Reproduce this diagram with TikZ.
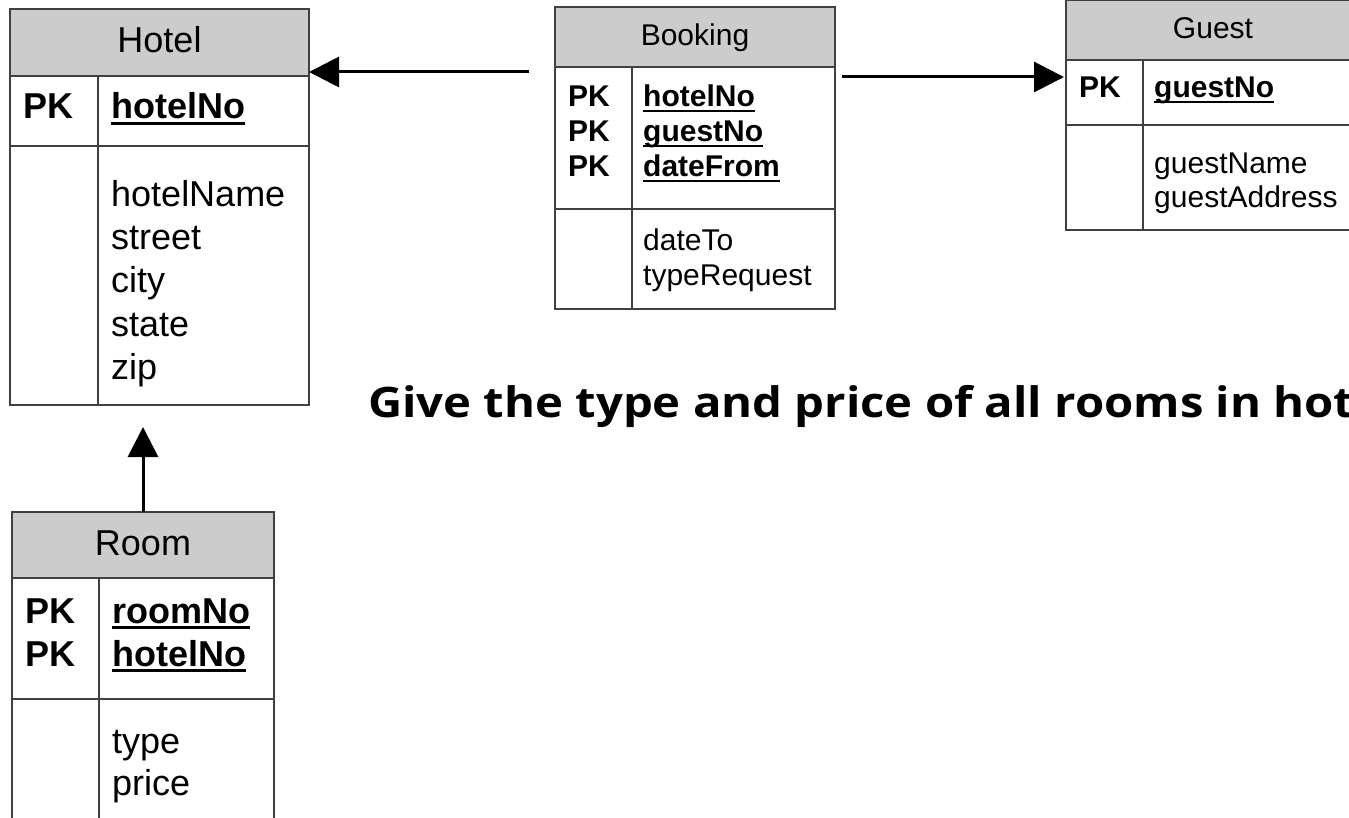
\documentclass[tikz,border=0pt]{standalone}
\usepackage{fontspec}
\usepackage{graphicx}
\setmainfont{Liberation Sans}
\newfontfamily\questfont{Open Sans}
\usetikzlibrary{arrows.meta}

\newcommand{\bigtab}{\fontsize{36}{43}\selectfont}
\newcommand{\smalltab}{\fontsize{30}{35}\selectfont}
% underlined primary key field
\newcommand{\pkey}[1]{\setbox0\hbox{#1}\rlap{\rule[-0.16em]{\wd0}{0.07em}}\box0}

\tikzset{
  tabline/.style={draw=black!75, line width=1.5pt},
  tabhead/.style={tabline, fill=black!20, inner sep=0pt, outer sep=0pt, anchor=north west},
  bighead/.style={tabhead, font=\bigtab, text height=27pt, text depth=7pt},
  smallhead/.style={tabhead, font=\smalltab, text height=22.5pt, text depth=6pt},
  tabcell/.style={tabline, inner sep=0pt, outer sep=0pt, anchor=north west},
  field/.style={inner sep=0pt, anchor=base west},
  fkarrow/.style={line width=3pt, -{Triangle[length=30pt,width=30pt]}},
}

\begin{document}
\begin{tikzpicture}[x=1pt, y=-1pt]
  \clip (0,0) rectangle (1349,818);
  \useasboundingbox (0,0) rectangle (1349,818);

  % Hotel
  \node[bighead, minimum width=299, minimum height=67] (hotel) at (10,9) {Hotel};
  \node[tabcell, minimum width=299, minimum height=70] (hotelkeys) at (hotel.south west) {};
  \node[tabcell, minimum width=299, minimum height=259] (hotelattr) at (hotelkeys.south west) {};
  \draw[tabline] ([xshift=88pt]hotelkeys.north west) -- ([xshift=88pt]hotelattr.south west);
  \node[field, font=\bigtab\bfseries] (hotelpk) at (23,119) {PK};
  \node[field, font=\bigtab\bfseries] (hotel-hotelNo) at (111,119) {\pkey{hotelNo}};
  \foreach \a [count=\i from 0] in {hotelName,street,city,state,zip}
    \node[field, font=\bigtab] (hotel-\a) at (111,{207+43*\i}) {\a};

  % Booking
  \node[smallhead, minimum width=280, minimum height=60] (booking) at (555,7) {Booking};
  \node[tabcell, minimum width=280, minimum height=142] (bookingkeys) at (booking.south west) {};
  \node[tabcell, minimum width=280, minimum height=100] (bookingattr) at (bookingkeys.south west) {};
  \draw[tabline] ([xshift=77pt]bookingkeys.north west) -- ([xshift=77pt]bookingattr.south west);
  \foreach \a [count=\i from 0] in {hotelNo,guestNo,dateFrom} {
    \node[field, font=\smalltab\bfseries] (bookingpk\i) at (568,{107+35*\i}) {PK};
    \node[field, font=\smalltab\bfseries] (booking-\a) at (643,{107+35*\i}) {\pkey{\a}};
  }
  \foreach \a [count=\i from 0] in {dateTo,typeRequest}
    \node[field, font=\smalltab] (booking-\a) at (643,{251+35*\i}) {\a};

  % Guest
  \node[smallhead, minimum width=294, minimum height=60] (guest) at (1066,0) {Guest};
  \node[tabcell, minimum width=294, minimum height=65] (guestkeys) at (guest.south west) {};
  \node[tabcell, minimum width=294, minimum height=105] (guestattr) at (guestkeys.south west) {};
  \draw[tabline] ([xshift=77pt]guestkeys.north west) -- ([xshift=77pt]guestattr.south west);
  \node[field, font=\smalltab\bfseries] (guestpk) at (1079,98) {PK};
  \node[field, font=\smalltab\bfseries] (guest-guestNo) at (1154,98) {\pkey{guestNo}};
  \foreach \a [count=\i from 0] in {guestName,guestAddress}
    \node[field, font=\smalltab] (guest-\a) at (1154,{174+34*\i}) {\a};

  % Room
  \node[bighead, minimum width=262, minimum height=66] (room) at (12,512) {Room};
  \node[tabcell, minimum width=262, minimum height=121] (roomkeys) at (room.south west) {};
  \node[tabcell, minimum width=262, minimum height=140] (roomattr) at (roomkeys.south west) {};
  \draw[tabline] ([xshift=87pt]roomkeys.north west) -- ([xshift=87pt]roomattr.south west);
  \foreach \a [count=\i from 0] in {roomNo,hotelNo} {
    \node[field, font=\bigtab\bfseries] (roompk\i) at (25,{623+43*\i}) {PK};
    \node[field, font=\bigtab\bfseries] (room-\a) at (112,{623+43*\i}) {\pkey{\a}};
  }
  \foreach \a [count=\i from 0] in {type,price}
    \node[field, font=\bigtab] (room-\a) at (112,{753+42*\i}) {\a};

  % foreign keys
  \draw[fkarrow, shorten <=26pt] ([yshift=-5pt]booking.south west) -- ([yshift=-5pt]booking.south west -| hotel.east);
  \draw[fkarrow, shorten <=7pt, shorten >=2pt] ([yshift=-10pt]booking.south east) -- ([yshift=-10pt]booking.south east -| guest.west);
  \draw[fkarrow, shorten >=22pt] (room.north) -- (room.north |- hotelattr.south);

  \node[field, font=\questfont\fontsize{42}{50}\selectfont\bfseries] (task) at (368,417)
    {\scalebox{1.125}[1]{Give the type and price of all rooms in hot}};
\end{tikzpicture}
\end{document}
